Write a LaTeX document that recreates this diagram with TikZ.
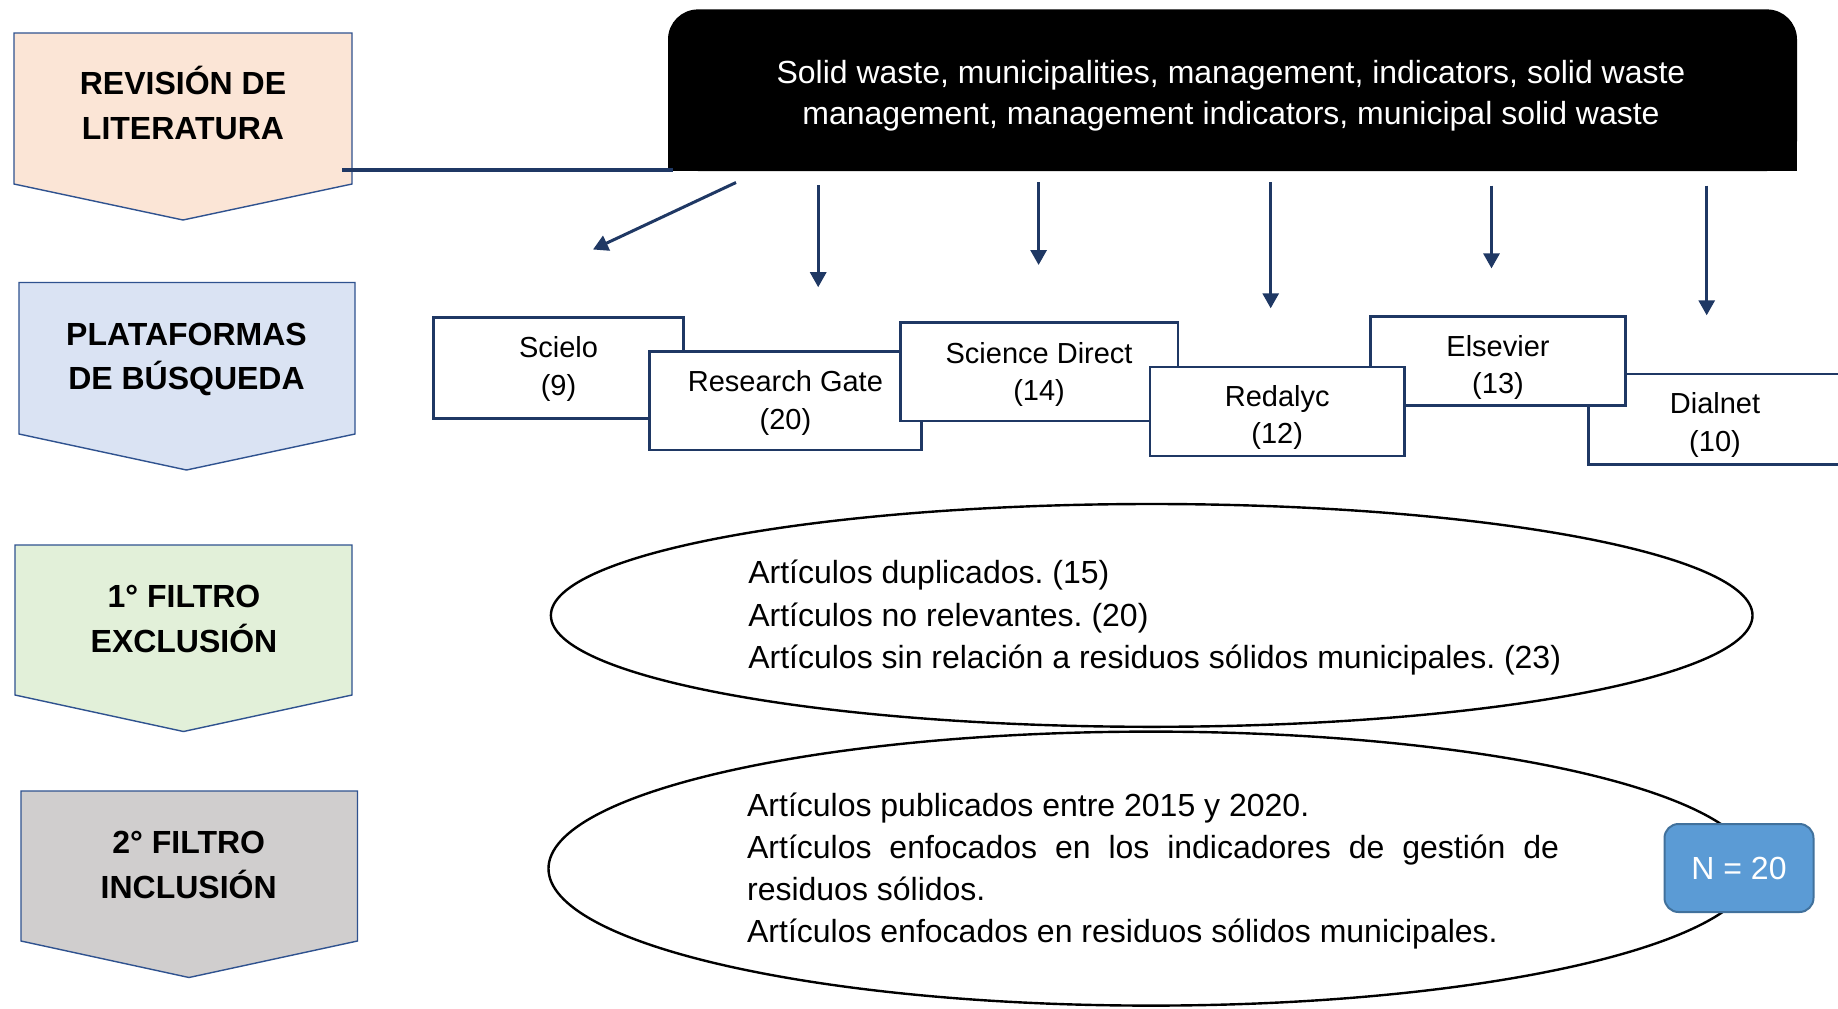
\documentclass[tikz,border=0pt]{standalone}
\usepackage{fontspec}
\setmainfont{Liberation Sans}
\usetikzlibrary{arrows.meta,shapes.geometric}
\definecolor{navy}{HTML}{1F3864}
\definecolor{pborder}{HTML}{2F528F}
\definecolor{peach}{HTML}{FBE5D6}
\definecolor{lblue}{HTML}{DAE3F3}
\definecolor{lgreen}{HTML}{E2F0D9}
\definecolor{lgray}{HTML}{D0CECE}
\definecolor{nfill}{HTML}{5B9BD5}
\definecolor{nborder}{HTML}{41719C}
\frenchspacing
\begin{document}
\begin{tikzpicture}[x=0.5pt,y=-0.5pt,
  penta/.style={draw=pborder, line width=0.7pt},
  ptext/.style={font=\fontsize{16pt}{22.3pt}\selectfont\bfseries, align=center, inner sep=0pt},
  platbox/.style={draw=navy, line width=1.3pt, fill=white, inner sep=0pt},
  plattext/.style={inner sep=0pt, align=center, font=\fontsize{14.5pt}{18.75pt}\selectfont},
  arr/.style={navy, line width=1.5pt, -{Triangle[length=7.5pt,width=8pt]}},
  bigtext/.style={font=\fontsize{16pt}{21.1pt}\selectfont, inner sep=0pt},
  ell/.style={draw=black, line width=1.2pt, ellipse, inner sep=0pt},
]
\useasboundingbox (0,0) rectangle (1838,1008);
\clip (0,0) rectangle (1838,1008);
\fill[white] (0,0) rectangle (1838,1008);

% left pentagons
\draw[penta, fill=peach] (14,33) -- (352,33) -- (352,184) -- (183,220) -- (14,184) -- cycle;
\draw[penta, fill=lblue] (19,282.5) -- (355,282.5) -- (355,434) -- (186.5,470) -- (19,434) -- cycle;
\draw[penta, fill=lgreen] (15,545) -- (352,545) -- (352,695) -- (183.5,731.5) -- (15,695) -- cycle;
\draw[penta, fill=lgray] (21,791) -- (357.5,791) -- (357.5,941) -- (189,977.5) -- (21,941) -- cycle;
\node[ptext] (t1) at (183,103.2) {REVISIÓN DE\\LITERATURA};
\node[ptext] (t2) at (186.5,359.3) {PLATAFORMAS\\DE BÚSQUEDA};
\node[ptext] (t3) at (184,618.8) {1° FILTRO\\EXCLUSIÓN};
\node[ptext] (t4) at (188.7,865) {2° FILTRO\\INCLUSIÓN};

% keyword box
\fill[black, rounded corners=15pt] (668,9.4) rectangle (1797,171);
\fill[black] (668,100) rectangle (1797,171);
\node[text=white, align=center, inner sep=0pt, font=\fontsize{16pt}{20.5pt}\selectfont] (kw) at (1231,95.5)
  {Solid waste, municipalities, management, indicators, solid waste\\management, management indicators, municipal solid waste};

% horizontal line
\coordinate (h1) at (342,169.5);
\coordinate (h2) at (673,169.5);
\draw[navy, line width=2pt] (h1) -- (h2);

% platform boxes
\node[platbox, minimum width=124.85pt, minimum height=50.4pt] (sci) at (558.5,368.1) {};
\node[plattext] (scit) at (558.5,369.1) {Scielo\\(9)};
\node[platbox, minimum width=136pt, minimum height=49.2pt] (rg) at (785.4,400.9) {};
\node[plattext] (rgt) at (785.4,402.9) {Research Gate\\(20)};
\node[platbox, minimum width=138.9pt, minimum height=49.2pt] (sd) at (1039.1,371.6) {};
\node[plattext] (sdt) at (1039.1,374.6) {Science Direct\\(14)};
\node[platbox, minimum width=126.7pt, minimum height=45.1pt] (dia) at (1715,419.1) {};
\node[plattext] (diat) at (1715,425.1) {Dialnet\\(10)};
\node[platbox, minimum width=127.75pt, minimum height=44.55pt] (els) at (1498,361) {};
\node[plattext] (elst) at (1498,367.5) {Elsevier\\(13)};
\node[platbox, minimum width=127.15pt, minimum height=44.55pt] (red) at (1277.2,411.5) {};
\node[plattext] (redt) at (1277.2,417.5) {Redalyc\\(12)};

% arrows
\coordinate (a1s) at (736,182.5);  \coordinate (a1e) at (593,249.5);
\coordinate (a2s) at (818.2,185.2); \coordinate (a2e) at (818.2,287.2);
\coordinate (a3s) at (1038.6,182); \coordinate (a3e) at (1038.6,265);
\coordinate (a4s) at (1270.7,182); \coordinate (a4e) at (1270.7,308.3);
\coordinate (a5s) at (1491.5,185.5); \coordinate (a5e) at (1491.5,268.4);
\coordinate (a6s) at (1706.7,185.5); \coordinate (a6e) at (1706.7,315.3);
\foreach \i in {1,...,6} {\draw[arr] (a\i s) -- (a\i e);}

% ellipses
\node[ell, minimum width=600.8pt, minimum height=111.4pt] (e1) at (1151.7,615.4) {};
\node[ell, minimum width=602.5pt, minimum height=137pt] (e2) at (1151,868.6) {};

\node[bigtext, anchor=west, align=left] (x1) at (747.9,617.7)
  {Artículos duplicados. (15)\\Artículos no relevantes. (20)\\Artículos sin relación a residuos sólidos municipales. (23)};
\node[anchor=west, inner sep=0pt] (x2) at (746.7,870.9)
  {\parbox{406pt}{\fontsize{16pt}{21.1pt}\selectfont\parindent=0pt
  Artículos publicados entre 2015 y 2020.\par
  Artículos enfocados en los indicadores de gestión de\linebreak residuos sólidos.\par
  Artículos enfocados en residuos sólidos municipales.}};

% N box
\node[draw=nborder, fill=nfill, line width=1pt, rounded corners=7pt, minimum width=74.5pt, minimum height=44pt,
  text=white, font=\fontsize{16pt}{19pt}\selectfont] (n) at (1739,868) {N = 20};
\end{tikzpicture}
\end{document}
